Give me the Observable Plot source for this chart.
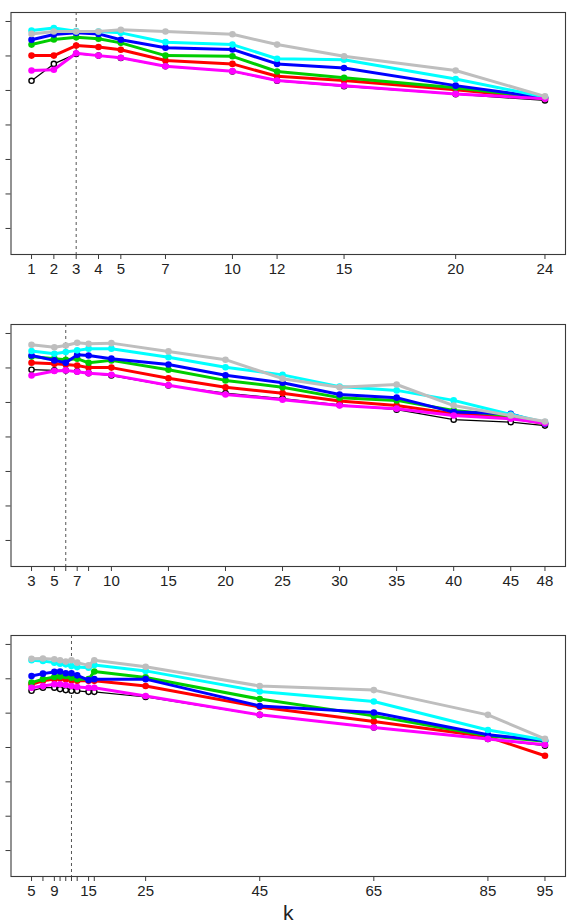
<!DOCTYPE html>
<html>
<head>
<meta charset="utf-8">
<script src="https://cdn.jsdelivr.net/npm/d3@7"></script>
<script src="https://cdn.jsdelivr.net/npm/@observablehq/plot@0.6"></script>
<style>
  html, body { margin: 0; padding: 0; background: #fff; }
  #chart { width: 573px; height: 923px; position: relative; }
  #chart svg { display: block; }
</style>
</head>
<body>
<div id="chart"></div>
<script>
// ---------- data ----------
const seriesNames = ["black", "red", "green", "blue", "cyan", "magenta", "gray"];
const seriesColors = ["#000000", "#FF0000", "#00CD00", "#0000FF", "#00FFFF", "#FF00FF", "#BEBEBE"];

// Panel 1
const k1 = [1, 2, 3, 4, 5, 7, 10, 12, 15, 20, 24];
const k1Labels = [1, 2, 3, 4, 5, 7, 10, 12, 15, 20, 24];
const k1Best = 3;
const p1Black   = [0.728, 0.777, 0.806, 0.801, 0.794, 0.770, 0.755, 0.728, 0.712, 0.689, 0.671];
const p1Red     = [0.801, 0.801, 0.830, 0.826, 0.818, 0.787, 0.777, 0.741, 0.729, 0.702, 0.677];
const p1Green   = [0.833, 0.848, 0.854, 0.850, 0.838, 0.801, 0.799, 0.755, 0.737, 0.708, 0.678];
const p1Blue    = [0.847, 0.862, 0.867, 0.864, 0.847, 0.824, 0.819, 0.777, 0.765, 0.714, 0.679];
const p1Cyan    = [0.874, 0.881, 0.872, 0.871, 0.867, 0.840, 0.833, 0.792, 0.789, 0.733, 0.681];
const p1Magenta = [0.758, 0.760, 0.808, 0.801, 0.795, 0.770, 0.756, 0.729, 0.714, 0.690, 0.676];
const p1Gray    = [0.864, 0.871, 0.871, 0.871, 0.876, 0.871, 0.863, 0.833, 0.799, 0.758, 0.683];

// Panel 2
const k2 = [3, 5, 6, 7, 8, 10, 15, 20, 25, 30, 35, 40, 45, 48];
const k2Labels = [3, 5, 7, 10, 15, 20, 25, 30, 35, 40, 45, 48];
const k2Best = 6;
const p2Black   = [0.795, 0.793, 0.793, 0.790, 0.785, 0.778, 0.749, 0.727, 0.711, 0.693, 0.679, 0.650, 0.643, 0.633];
const p2Red     = [0.815, 0.812, 0.810, 0.807, 0.801, 0.801, 0.770, 0.744, 0.727, 0.704, 0.691, 0.667, 0.657, 0.638];
const p2Green   = [0.833, 0.827, 0.824, 0.827, 0.815, 0.822, 0.795, 0.764, 0.744, 0.714, 0.706, 0.677, 0.661, 0.639];
const p2Blue    = [0.836, 0.822, 0.815, 0.838, 0.836, 0.827, 0.810, 0.779, 0.757, 0.723, 0.714, 0.672, 0.667, 0.638];
const p2Cyan    = [0.849, 0.841, 0.846, 0.851, 0.856, 0.856, 0.831, 0.802, 0.780, 0.746, 0.735, 0.706, 0.665, 0.643];
const p2Magenta = [0.778, 0.791, 0.793, 0.789, 0.785, 0.780, 0.750, 0.723, 0.708, 0.691, 0.682, 0.662, 0.653, 0.640];
const p2Gray    = [0.867, 0.860, 0.865, 0.873, 0.870, 0.872, 0.848, 0.824, 0.769, 0.744, 0.752, 0.691, 0.662, 0.645];

// Panel 3
const k3 = [5, 7, 9, 10, 11, 12, 13, 15, 16, 25, 45, 65, 85, 95];
const k3Labels = [5, 9, 15, 25, 45, 65, 85, 95];
const k3Best = 12;
const p3Black   = [0.765, 0.774, 0.774, 0.770, 0.767, 0.765, 0.765, 0.762, 0.762, 0.747, 0.695, 0.658, 0.625, 0.605];
const p3Red     = [0.784, 0.794, 0.799, 0.801, 0.799, 0.796, 0.794, 0.794, 0.794, 0.779, 0.718, 0.676, 0.631, 0.576];
const p3Green   = [0.789, 0.799, 0.805, 0.807, 0.808, 0.803, 0.799, 0.799, 0.821, 0.804, 0.741, 0.692, 0.634, 0.618];
const p3Blue    = [0.808, 0.815, 0.820, 0.821, 0.816, 0.816, 0.810, 0.796, 0.799, 0.799, 0.721, 0.702, 0.637, 0.620];
const p3Cyan    = [0.854, 0.852, 0.847, 0.844, 0.842, 0.837, 0.834, 0.832, 0.840, 0.823, 0.763, 0.734, 0.651, 0.622];
const p3Magenta = [0.774, 0.779, 0.784, 0.784, 0.782, 0.779, 0.776, 0.774, 0.774, 0.750, 0.695, 0.658, 0.625, 0.608];
const p3Gray    = [0.858, 0.859, 0.857, 0.854, 0.850, 0.854, 0.847, 0.839, 0.854, 0.835, 0.779, 0.767, 0.695, 0.625];

const yTicks = [0.3, 0.4, 0.5, 0.6, 0.7, 0.8, 0.9];
const yDomain = [0.2245, 0.926];
const xLabel = "k";

// ---------- drawing ----------
const FONT = "'Liberation Sans Narrow', 'Liberation Sans', Arial, sans-serif";

function makePanel({ks, labels, best, series, height, frameH, showK}) {
  const lo = ks[0], hi = ks[ks.length - 1];
  const pad = (hi - lo) * 0.04;
  const rows = [];
  series.forEach((vals, si) => {
    vals.forEach((v, i) => rows.push({k: ks[i], v, s: seriesNames[si], idx: si}));
  });
  const marks = [
    Plot.ruleX([best], {stroke: "#555", strokeWidth: 1, strokeDasharray: "3,3"}),
  ];
  seriesNames.forEach((name, si) => {
    const d = rows.filter(r => r.idx === si);
    if (name === "black") {
      marks.push(Plot.line(d, {x: "k", y: "v", stroke: "#000", strokeWidth: 1.2}));
      marks.push(Plot.dot(d, {x: "k", y: "v", r: 2.6, stroke: "#000", strokeWidth: 1.4, fill: "#fff"}));
    } else {
      marks.push(Plot.line(d, {x: "k", y: "v", stroke: seriesColors[si], strokeWidth: 3}));
      marks.push(Plot.dot(d, {x: "k", y: "v", r: 3.3, fill: seriesColors[si], stroke: "none"}));
    }
  });
  marks.push(Plot.frame({stroke: "#3a3a3a", strokeWidth: 1.1}));
  marks.push(Plot.axisX({
    ticks: ks,
    tickFormat: d => labels.includes(d) ? String(d) : "",
    tickSize: 5, tickPadding: 4, label: null, fontSize: 15, stroke: "#3a3a3a"
  }));
  marks.push(Plot.axisY({
    ticks: yTicks, tickFormat: () => "", tickSize: 5, label: null, stroke: "#3a3a3a"
  }));
  if (showK) {
    marks.push(Plot.text([xLabel], {frameAnchor: "bottom", dy: 37, text: d => d, fontSize: 21, fill: "#222", lineAnchor: "middle"}));
  }
  return Plot.plot({
    width: 573,
    height,
    marginLeft: 10.5,
    marginRight: 8,
    marginTop: 12,
    marginBottom: height - 12 - frameH,
    x: {domain: [lo - pad, hi + pad]},
    y: {domain: yDomain},
    style: {fontFamily: FONT, fontSize: "15px", color: "#222", background: "#fff", overflow: "visible"},
    marks
  });
}

const chart = document.getElementById("chart");
chart.append(makePanel({
  ks: k1, labels: k1Labels, best: k1Best,
  series: [p1Black, p1Red, p1Green, p1Blue, p1Cyan, p1Magenta, p1Gray],
  height: 312, frameH: 242, showK: false
}));
chart.append(makePanel({
  ks: k2, labels: k2Labels, best: k2Best,
  series: [p2Black, p2Red, p2Green, p2Blue, p2Cyan, p2Magenta, p2Gray],
  height: 311, frameH: 242, showK: false
}));
chart.append(makePanel({
  ks: k3, labels: k3Labels, best: k3Best,
  series: [p3Black, p3Red, p3Green, p3Blue, p3Cyan, p3Magenta, p3Gray],
  height: 300, frameH: 241, showK: true
}));
</script>
</body>
</html>
